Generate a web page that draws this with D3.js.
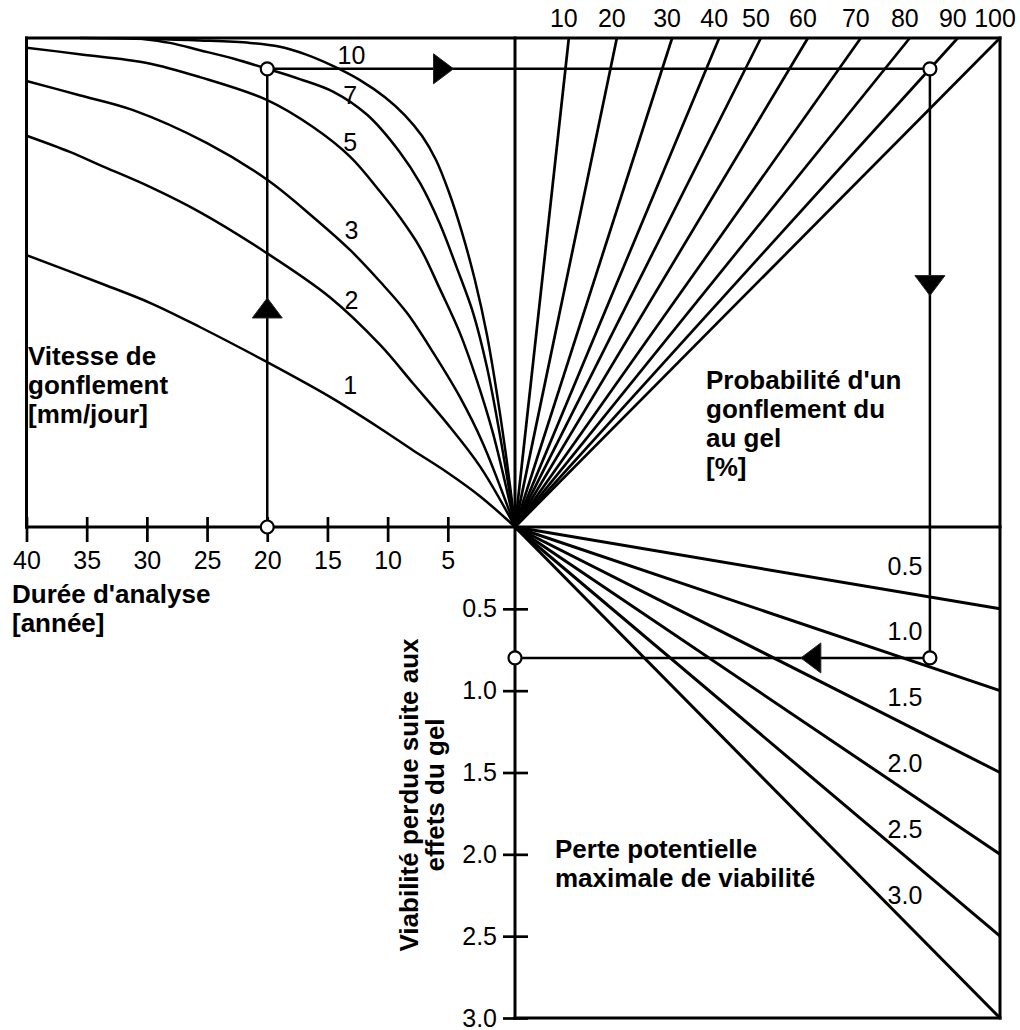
<!DOCTYPE html>
<html><head><meta charset="utf-8">
<script src="https://cdn.jsdelivr.net/npm/d3@7"></script>
<style>body{margin:0;background:#fff}svg{display:block}</style>
</head><body>
<svg id="chart" width="1020" height="1030"></svg>
<script>
// ---------------- DATA ----------------
const yearTicks = [40, 35, 30, 25, 20, 15, 10, 5];
const rateNames = ["10", "7", "5", "3", "2", "1"];
// swelling-rate curves: [analysis duration (years), relative height index 0-100]
const rate10 = [[35.56,100],[29.74,99.8],[25.59,99.5],[21.44,99.0],[18.95,98.2],[16.87,96.7],[14.55,94.3],[12.3,91.4],[10.22,87.9],[8.56,84.2],[7.15,80.0],[5.99,75.1],[4.91,68.5],[3.83,60.3],[2.75,50.5],[1.75,39.3],[0.84,26.0],[0.09,13.3],[-0.6,0]];
const rate7  = [[30.6,99.9],[28.1,99.0],[25.6,97.5],[22.7,95.7],[20,93.7],[17.3,91.6],[14.5,89.0],[11.7,84.3],[9.0,76.7],[7.3,70.3],[5.7,62.2],[4.25,53.0],[2.9,43.8],[1.75,32.7],[0.7,19.2],[-0.6,0]];
const rate5  = [[40,98.0],[35.6,96.7],[30.0,94.9],[25.6,92.0],[20,87.3],[16.2,81.8],[13.1,75.7],[10.6,68.5],[9.0,63.4],[7.3,57.1],[5.7,48.9],[4.0,39.7],[2.6,30.1],[1.25,19.2],[-0.6,0]];
const rate3  = [[40,91.2],[35.6,88.3],[31.2,85.3],[25.0,78.5],[20,71.0],[16.2,63.4],[13.1,56.6],[10.6,50.1],[8.4,43.8],[6.2,35.6],[4.0,26.6],[2.1,17.2],[-0.6,0]];
const rate2  = [[40,80.0],[36.4,76.7],[33.9,74.0],[29.7,69.5],[25.6,64.4],[20.4,56.6],[14.8,47.0],[10.6,37.2],[7.9,29.4],[5.1,21.3],[2.3,12.3],[-0.6,0]];
const rate1  = [[40,55.6],[33.9,49.9],[29.7,45.8],[25.6,40.9],[20,33.7],[14.79,26.6],[10.64,20.2],[7.9,15.7],[5.07,11.2],[2.33,6.3],[-0.6,0]];
const rateCurves = [rate10, rate7, rate5, rate3, rate2, rate1];

const probValues   = [10, 20, 30, 40, 50, 60, 70, 80, 90, 100];
const probTopIndex = [11.1, 21.0, 32.4, 42.1, 50.7, 60.4, 71.3, 81.4, 91.3, 100];

const lossLevels = [0.5, 1.0, 1.5, 2.0, 2.5, 3.0];
const lossTicks  = [0.5, 1.0, 1.5, 2.0, 2.5, 3.0];

const exampleYear = 20, exampleRate = "7", exampleProb = 90, exampleLoss = 0.8;

const txtRate  = ["Vitesse de", "gonflement", "[mm/jour]"];
const txtProb  = ["Probabilité d'un", "gonflement du", "au gel", "[%]"];
const txtYear  = ["Durée d'analyse", "[année]"];
const txtMax   = ["Perte potentielle", "maximale de viabilité"];
const txtLoss  = ["Viabilité perdue suite aux", "effets du gel"];

// ---------------- LAYOUT ----------------
const FONT = "'Liberation Sans', Arial, Helvetica, sans-serif";
const NUM = 25, BOLD = 26;
const rateLabelAnchors = [[13.0,96.5],[13.1,88.3],[13.1,78.7],[13.0,60.7],[13.0,46.4],[13.1,29.0]];

const svg = d3.select("#chart");
const xYear = d3.scaleLinear().domain([40, 0]).range([26.5, 508]);
const yH    = d3.scaleLinear().domain([0, 100]).range([527, 38]);
const xIdx  = d3.scaleLinear().domain([0, 100]).range([515, 1000]);
const yLoss = d3.scaleLinear().domain([0, 3]).range([527, 1018]);

const ox = xIdx(0), oy = yH(0);

// frame
const frame = [
  [[xYear(40), yH(100)], [xIdx(100), yH(100)]],
  [[xYear(40), yH(100)], [xYear(40), yH(0)]],
  [[xYear(40), yH(0)], [xIdx(100), yH(0)]],
  [[ox, yH(100)], [ox, yLoss(3)]],
  [[xIdx(100), yH(100)], [xIdx(100), yLoss(3)]],
  [[ox, yLoss(3)], [xIdx(100), yLoss(3)]]
];
svg.append("g").selectAll("path").data(frame).join("path")
  .attr("d", d => d3.line()(d)).attr("stroke", "#000").attr("stroke-width", 3)
  .attr("stroke-linecap", "square").attr("fill", "none");

// rate curves
const curveLine = d3.line().x(d => xYear(d[0])).y(d => yH(d[1])).curve(d3.curveCatmullRom.alpha(0.5));
svg.append("g").selectAll("path").data(rateCurves).join("path")
  .attr("d", curveLine).attr("fill", "none").attr("stroke", "#000").attr("stroke-width", 2.5);
svg.append("g").selectAll("text").data(rateNames).join("text")
  .attr("x", (d, i) => xYear(rateLabelAnchors[i][0]))
  .attr("y", (d, i) => yH(rateLabelAnchors[i][1]))
  .attr("dy", "0.35em").attr("text-anchor", "middle")
  .attr("font-family", FONT).attr("font-size", NUM).text(d => d);

// probability lines
svg.append("g").selectAll("line").data(probTopIndex).join("line")
  .attr("x1", ox).attr("y1", oy).attr("x2", d => xIdx(d)).attr("y2", yH(100))
  .attr("stroke", "#000").attr("stroke-width", 2.7);
svg.append("g").selectAll("text").data(probValues).join("text")
  .attr("x", (d, i) => xIdx(probTopIndex[i]) - 5).attr("y", yH(100) - 20)
  .attr("dy", "0.35em").attr("text-anchor", "middle")
  .attr("font-family", FONT).attr("font-size", NUM).text(d => d);

// loss lines
const lineYAt = (v, x) => oy + (x - ox) / (xIdx(100) - ox) * (yLoss(v) - oy);
svg.append("g").selectAll("line").data(lossLevels).join("line")
  .attr("x1", ox).attr("y1", oy).attr("x2", xIdx(100)).attr("y2", d => yLoss(d))
  .attr("stroke", "#000").attr("stroke-width", 3);
svg.append("g").selectAll("text").data(lossLevels).join("text")
  .attr("x", 905).attr("y", d => lineYAt(d, 905) - 27)
  .attr("dy", "0.35em").attr("text-anchor", "middle")
  .attr("font-family", FONT).attr("font-size", NUM).text(d => d3.format(".1f")(d));

// year axis
const gx = svg.append("g").attr("transform", `translate(0,${oy})`)
  .call(d3.axisBottom(xYear).tickValues(yearTicks).tickSize(15).tickSizeOuter(0));
gx.select(".domain").remove();
gx.selectAll(".tick line").attr("y1", -10).attr("stroke-width", 2.7);
gx.selectAll(".tick text").attr("y", 42).attr("dy", 0)
  .attr("font-family", FONT).attr("font-size", NUM).attr("fill", "#000");

// loss axis
const gy = svg.append("g").attr("transform", `translate(${ox},0)`)
  .call(d3.axisLeft(yLoss).tickValues(lossTicks).tickFormat(d3.format(".1f")).tickSize(12).tickSizeOuter(0));
gy.select(".domain").remove();
gy.selectAll(".tick line").attr("x1", 13).attr("stroke-width", 2.7);
gy.selectAll(".tick text").attr("x", -18).attr("font-family", FONT).attr("font-size", NUM).attr("fill", "#000");

// example path
const hEx = rateCurves[rateNames.indexOf(exampleRate)].find(d => d[0] === exampleYear)[1];
const xEx = xYear(exampleYear), yEx = yH(hEx);
const pIdx = probTopIndex[probValues.indexOf(exampleProb)];
const xP = xIdx(pIdx * hEx / 100);
const yL = yLoss(exampleLoss);
const pts = [[xEx, oy], [xEx, yEx], [xP, yEx], [xP, yL], [ox, yL]];
svg.append("path").attr("d", d3.line()(pts)).attr("fill", "none").attr("stroke", "#000").attr("stroke-width", 2.5);

// arrows
const arrowAt = (a, b, t, ang) => {
  const cx = a[0] + (b[0] - a[0]) * t, cy = a[1] + (b[1] - a[1]) * t;
  svg.append("path").attr("d", "M10,0L-10,-15L-10,15Z")
    .attr("transform", `translate(${cx},${cy}) rotate(${ang})`)
    .attr("fill", "#000").attr("stroke", "#222").attr("stroke-width", 1);
};
arrowAt(pts[0], pts[1], 0.478, -90);
arrowAt(pts[1], pts[2], 0.266, 0);
arrowAt(pts[2], pts[3], 0.368, 90);
arrowAt(pts[3], pts[4], 0.287, 180);

svg.append("g").selectAll("circle").data(pts).join("circle")
  .attr("cx", d => d[0]).attr("cy", d => d[1]).attr("r", 6.5)
  .attr("fill", "#fff").attr("stroke", "#000").attr("stroke-width", 2.2);

// bold labels
const block = (lines, x, y0, step) => {
  svg.append("g").selectAll("text").data(lines).join("text")
    .attr("x", x).attr("y", (d, i) => y0 + i * step).attr("dy", "0.35em")
    .attr("font-family", FONT).attr("font-size", BOLD).attr("font-weight", "bold").text(d => d);
};
block(txtRate, 28, 356, 29);
block(txtProb, 706, 380, 29);
block(txtYear, 12, 594, 29);
block(txtMax, 555, 849, 29);

const gr = svg.append("g").attr("transform", "translate(0,795) rotate(-90)");
gr.selectAll("text").data(txtLoss).join("text")
  .attr("x", 0).attr("y", (d, i) => 409 + i * 26).attr("dy", "0.35em")
  .attr("text-anchor", "middle").attr("font-family", FONT).attr("font-size", BOLD)
  .attr("font-weight", "bold").text(d => d);
</script>
</body></html>
